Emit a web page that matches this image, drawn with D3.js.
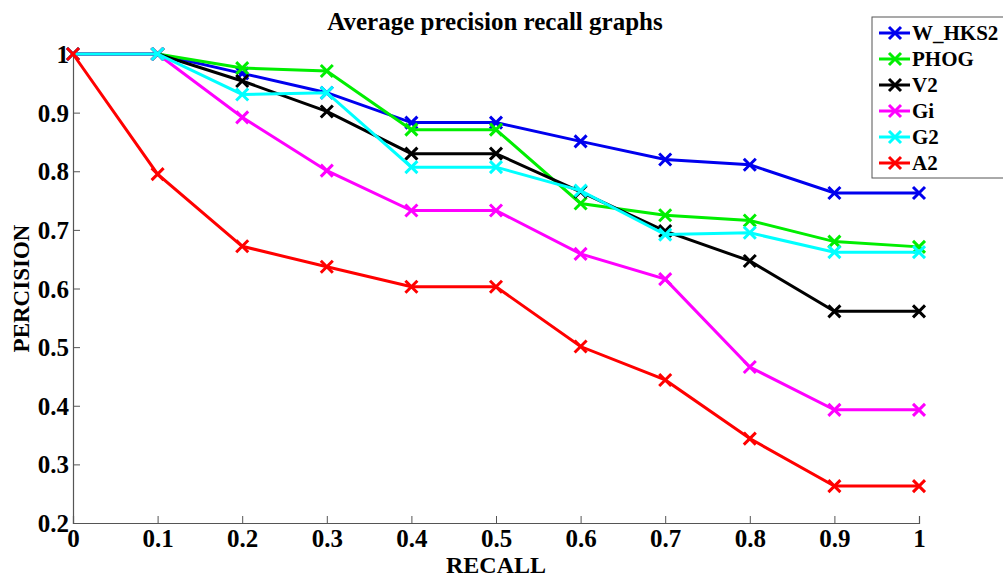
<!DOCTYPE html>
<html>
<head>
<meta charset="utf-8">
<script src="https://cdn.jsdelivr.net/npm/d3@7"></script>
<style>
  body { margin: 0; background: #fff; }
  svg text { font-family: "Liberation Serif", "Times New Roman", serif !important; font-weight: bold; }
</style>
</head>
<body>
<div id="chart"></div>
<script>
// --- données ---
const recall = [0, 0.1, 0.2, 0.3, 0.4, 0.5, 0.6, 0.7, 0.8, 0.9, 1];
const seriesNames = ["W_HKS2", "PHOG", "V2", "Gi", "G2", "A2"];
const seriesColors = ["#0000ee", "#00ee00", "#000000", "#ff00ff", "#00ffff", "#ff0000"];
const wHks2 = [1, 1, 0.967, 0.934, 0.883, 0.883, 0.851, 0.820, 0.811, 0.763, 0.763];
const phog  = [1, 1, 0.976, 0.971, 0.871, 0.871, 0.745, 0.725, 0.716, 0.680, 0.671];
const v2    = [1, 1, 0.954, 0.902, 0.830, 0.830, 0.765, 0.698, 0.647, 0.561, 0.561];
const gi    = [1, 1, 0.892, 0.801, 0.733, 0.733, 0.659, 0.616, 0.466, 0.393, 0.393];
const g2    = [1, 1, 0.931, 0.934, 0.807, 0.807, 0.767, 0.692, 0.695, 0.662, 0.662];
const a2    = [1, 0.795, 0.672, 0.637, 0.603, 0.603, 0.501, 0.444, 0.344, 0.263, 0.263];
const xTicks = [0, 0.1, 0.2, 0.3, 0.4, 0.5, 0.6, 0.7, 0.8, 0.9, 1];
const yTicks = [0.2, 0.3, 0.4, 0.5, 0.6, 0.7, 0.8, 0.9, 1];

const allSeries = [wHks2, phog, v2, gi, g2, a2].map((vals, i) => ({
    name: seriesNames[i], color: seriesColors[i],
    points: vals.map((v, j) => ({x: recall[j], y: v}))
}));

const width = 1003, height = 574;
const margin = {left: 73, right: 84, top: 54, bottom: 51};

const svg = d3.select("#chart").append("svg")
    .attr("width", width).attr("height", height);

const x = d3.scaleLinear().domain([0, 1]).range([margin.left, width - margin.right]);
const y = d3.scaleLinear().domain([0.2, 1]).range([height - margin.bottom, margin.top]);

const fmt = d => String(+d.toFixed(1));

// Axes (ticks vers l'intérieur)
const xAxis = svg.append("g")
    .attr("transform", `translate(0,${y(0.2)})`)
    .call(d3.axisBottom(x).tickValues(xTicks).tickSize(-7).tickPadding(6).tickFormat(fmt));
const yAxis = svg.append("g")
    .attr("transform", `translate(${x(0)},0)`)
    .call(d3.axisLeft(y).tickValues(yTicks).tickSize(-7).tickPadding(4).tickFormat(fmt));

[xAxis, yAxis].forEach(g => {
    g.attr("font-family", null).attr("font-size", null);
    g.select(".domain").attr("stroke", "#555").attr("stroke-width", 1.2);
    g.selectAll(".tick line").attr("stroke", "#555").attr("stroke-width", 1);
    g.selectAll("text").attr("fill", "#000").style("font-size", "25px");
});
xAxis.selectAll("text").attr("dy", "0.71em");
yAxis.selectAll("text").attr("dy", "0.34em");

// Lignes
const line = d3.line().x(d => x(d.x)).y(d => y(d.y));
const cross = 6;

allSeries.forEach(s => {
    const g = svg.append("g");
    g.append("path")
        .datum(s.points)
        .attr("d", line)
        .attr("fill", "none")
        .attr("stroke", s.color)
        .attr("stroke-width", 3);
    g.selectAll("path.mk")
        .data(s.points)
        .enter().append("path")
        .attr("class", "mk")
        .attr("d", d => {
            const px = x(d.x), py = y(d.y);
            return `M${px - cross},${py - cross}L${px + cross},${py + cross}M${px - cross},${py + cross}L${px + cross},${py - cross}`;
        })
        .attr("stroke", s.color)
        .attr("stroke-width", 3);
});

// Titre et libellés
svg.append("text")
    .attr("x", 495).attr("y", 30)
    .attr("text-anchor", "middle")
    .style("font-size", "25px")
    .text("Average precision recall graphs");

svg.append("text")
    .attr("x", 496).attr("y", 573)
    .attr("text-anchor", "middle")
    .style("font-size", "24px")
    .text("RECALL");

svg.append("text")
    .attr("transform", `translate(29,${(y(0.2) + y(1)) / 2}) rotate(-90)`)
    .attr("text-anchor", "middle")
    .style("font-size", "23px")
    .text("PERCISION");

// Légende
const legend = svg.append("g").attr("transform", "translate(872,17)");
legend.append("rect")
    .attr("width", 140).attr("height", 161)
    .attr("fill", "#fff").attr("stroke", "#555").attr("stroke-width", 1);

allSeries.forEach((s, i) => {
    const row = legend.append("g").attr("transform", `translate(0,${16 + i * 26})`);
    row.append("line")
        .attr("x1", 7).attr("x2", 38)
        .attr("stroke", s.color).attr("stroke-width", 3);
    row.append("path")
        .attr("d", `M${23 - cross},${-cross}L${23 + cross},${cross}M${23 - cross},${cross}L${23 + cross},${-cross}`)
        .attr("stroke", s.color).attr("stroke-width", 3);
    row.append("text")
        .attr("x", 40).attr("y", 0).attr("dy", "0.35em")
        .style("font-size", "21px")
        .text(s.name);
});
</script>
</body>
</html>
